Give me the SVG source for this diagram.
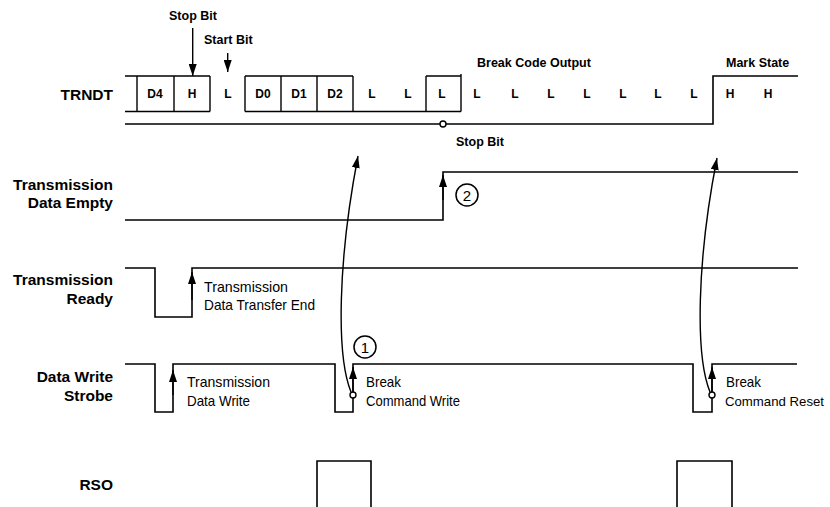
<svg xmlns="http://www.w3.org/2000/svg" width="830" height="507" viewBox="0 0 830 507">
<style>
.sig{fill:none;stroke:#000;stroke-width:1.6}
.box{fill:none;stroke:#000;stroke-width:1.4}
.arr{fill:none;stroke:#000;stroke-width:1.4}
.lbl{font-family:"Liberation Sans",Arial,sans-serif;font-weight:bold;font-size:15.5px;text-anchor:end}
.bit{font-family:"Liberation Sans",Arial,sans-serif;font-weight:bold;font-size:12px;text-anchor:middle}
.note{font-family:"Liberation Sans",Arial,sans-serif;font-weight:bold;font-size:12.5px}
.desc{font-family:"Liberation Sans",Arial,sans-serif;font-size:15px}
.num{font-family:"Liberation Sans",Arial,sans-serif;font-size:15px;text-anchor:middle}
.dot{fill:#fff;stroke:#000;stroke-width:1.4}
</style>
<defs>
<marker id="ah" markerUnits="userSpaceOnUse" markerWidth="12" markerHeight="8" refX="12" refY="4" orient="auto">
<path d="M0,0 L12,4 L0,8 z" fill="#000"/>
</marker>
</defs>
<rect width="830" height="507" fill="#fff"/>

<g id="labels">
<text class="lbl" x="113" y="100">TRNDT</text>
<text class="lbl" x="113" y="189.5">Transmission</text>
<text class="lbl" x="113" y="208">Data Empty</text>
<text class="lbl" x="113" y="285">Transmission</text>
<text class="lbl" x="113" y="303.5">Ready</text>
<text class="lbl" x="113" y="382">Data Write</text>
<text class="lbl" x="113" y="400.5">Strobe</text>
<text class="lbl" x="113" y="490">RSO</text>
</g>

<g id="trndt">
<path class="box" d="M125,76 H210 M125,111.5 H210 M137,76 V111.5 M174,76 V111.5 M210,76 V111.5"/>
<path class="box" d="M245,76 H353 M245,111.5 H461 M245,76 V111.5 M281,76 V111.5 M317,76 V111.5 M353,76 V111.5"/>
<path class="box" d="M426,76 H461 M426,76 V111.5 M461,74 V111.5"/>
<path class="sig" d="M125,124 H713 V76 H798"/>
<circle class="dot" cx="443" cy="124" r="3"/>
<text class="bit" x="155" y="97.5">D4</text>
<text class="bit" x="192" y="97.5">H</text>
<text class="bit" x="228" y="97.5">L</text>
<text class="bit" x="263" y="97.5">D0</text>
<text class="bit" x="299" y="97.5">D1</text>
<text class="bit" x="335" y="97.5">D2</text>
<text class="bit" x="372" y="97.5">L</text>
<text class="bit" x="408" y="97.5">L</text>
<text class="bit" x="442" y="97.5">L</text>
<text class="bit" x="477" y="97.5">L</text>
<text class="bit" x="515" y="97.5">L</text>
<text class="bit" x="551" y="97.5">L</text>
<text class="bit" x="587" y="97.5">L</text>
<text class="bit" x="623" y="97.5">L</text>
<text class="bit" x="658" y="97.5">L</text>
<text class="bit" x="694" y="97.5">L</text>
<text class="bit" x="730" y="97.5">H</text>
<text class="bit" x="768" y="97.5">H</text>
<text class="note" x="169" y="20">Stop Bit</text>
<text class="note" x="204" y="43.5">Start Bit</text>
<text class="note" x="477" y="67">Break Code Output</text>
<text class="note" x="726" y="67">Mark State</text>
<text class="note" x="456" y="146">Stop Bit</text>
</g>

<g id="tde">
<path class="sig" d="M125,220 H443 V172 H798"/>
<circle cx="467" cy="195" r="11" fill="none" stroke="#000" stroke-width="1.5"/>
<text class="num" x="467" y="200.5">2</text>
</g>

<g id="tready">
<path class="sig" d="M125,268 H155 V317 H192 V268 H798"/>
<text class="desc" x="204" y="291.5" textLength="84" lengthAdjust="spacingAndGlyphs">Transmission</text>
<text class="desc" x="204" y="310" textLength="111" lengthAdjust="spacingAndGlyphs">Data Transfer End</text>
</g>

<g id="dws">
<path class="sig" d="M125,364 H155 V412 H173 V364 H335 V412 H353 V364 H693 V412 H712 V364 H797"/>
<text class="desc" x="187" y="387" textLength="83" lengthAdjust="spacingAndGlyphs">Transmission</text>
<text class="desc" x="187" y="405.5" textLength="63" lengthAdjust="spacingAndGlyphs">Data Write</text>
<text class="desc" x="366" y="387" textLength="35" lengthAdjust="spacingAndGlyphs">Break</text>
<text class="desc" x="366" y="405.5" textLength="94" lengthAdjust="spacingAndGlyphs">Command Write</text>
<text class="desc" x="726" y="387" textLength="35" lengthAdjust="spacingAndGlyphs">Break</text>
<text class="desc" x="725" y="405.5" style="font-size:13.5px" textLength="99" lengthAdjust="spacingAndGlyphs">Command Reset</text>
<circle cx="365" cy="347" r="11" fill="none" stroke="#000" stroke-width="1.5"/>
<text class="num" x="365" y="352.5">1</text>
</g>

<g id="rso">
<path class="sig" d="M317,507 V461 H371 V507"/>
<path class="sig" d="M677,507 V461 H732 V507"/>
</g>

<g id="connectors">
<line class="arr" x1="192.7" y1="28" x2="192.7" y2="76" marker-end="url(#ah)"/>
<line class="arr" x1="227.7" y1="53" x2="227.7" y2="72" marker-end="url(#ah)"/>
<line class="arr" x1="443" y1="200" x2="443" y2="175" marker-end="url(#ah)"/>
<line class="arr" x1="192" y1="300" x2="192" y2="272" marker-end="url(#ah)"/>
<line class="arr" x1="173" y1="395" x2="173" y2="370" marker-end="url(#ah)"/>
<line class="arr" x1="353" y1="392" x2="353" y2="367" marker-end="url(#ah)"/>
<line class="arr" x1="712" y1="392" x2="712" y2="367" marker-end="url(#ah)"/>
<path class="arr" d="M351,392 C336,355 338,260 358,156" marker-end="url(#ah)"/>
<path class="arr" d="M710,392 C695,355 697,260 717,158" marker-end="url(#ah)"/>
<circle class="dot" cx="353" cy="395" r="3"/>
<circle class="dot" cx="712" cy="395" r="3"/>
</g>
</svg>
